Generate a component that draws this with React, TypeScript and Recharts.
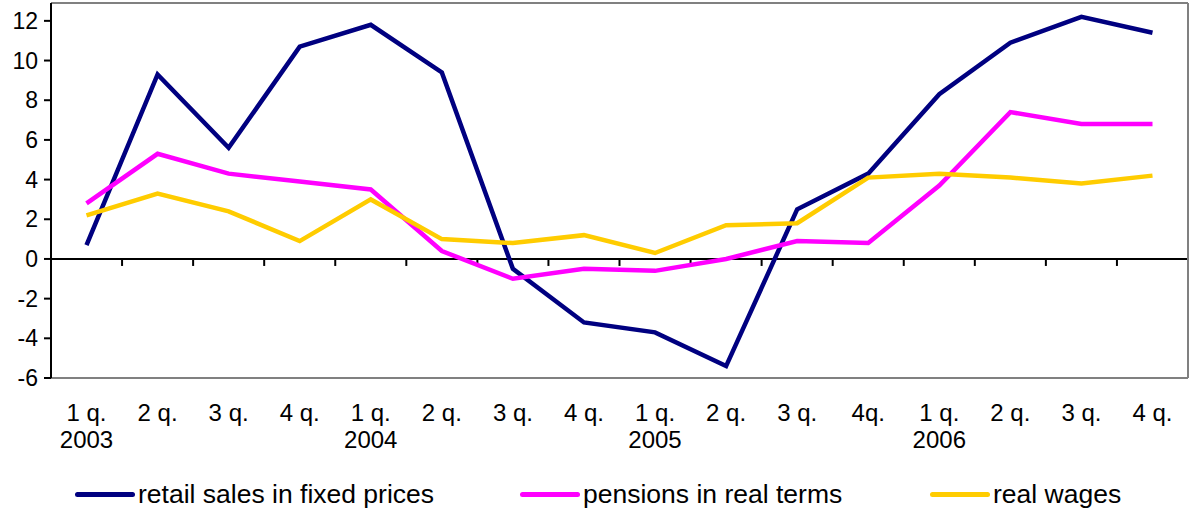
import React from 'react';
import { LineChart, Line, XAxis, YAxis, ReferenceLine, Legend } from 'recharts';

const quarters = ['1 q.', '2 q.', '3 q.', '4 q.', '1 q.', '2 q.', '3 q.', '4 q.', '1 q.', '2 q.', '3 q.', '4q.', '1 q.', '2 q.', '3 q.', '4 q.'];
const years = ['2003', '', '', '', '2004', '', '', '', '2005', '', '', '', '2006', '', '', ''];

const retailSales = [0.7, 9.3, 5.6, 10.7, 11.8, 9.4, -0.5, -3.2, -3.7, -5.4, 2.5, 4.3, 8.3, 10.9, 12.2, 11.4];
const pensions = [2.8, 5.3, 4.3, 3.9, 3.5, 0.4, -1.0, -0.5, -0.6, 0.0, 0.9, 0.8, 3.7, 7.4, 6.8, 6.8];
const realWages = [2.2, 3.3, 2.4, 0.9, 3.0, 1.0, 0.8, 1.2, 0.3, 1.7, 1.8, 4.1, 4.3, 4.1, 3.8, 4.2];

const yTicks = [-6, -4, -2, 0, 2, 4, 6, 8, 10, 12];
const yMax = 12.9;

const series = [
  { key: 'retail', name: 'retail sales in fixed prices', color: '#000080' },
  { key: 'pensions', name: 'pensions in real terms', color: '#FF00FF' },
  { key: 'wages', name: 'real wages', color: '#FFCC00' },
];

const data = quarters.map((q, i) => ({
  idx: i,
  retail: retailSales[i],
  pensions: pensions[i],
  wages: realWages[i],
}));

const FONT = '"Liberation Sans", Arial, sans-serif';

// x axis crossing at zero, with tick marks between the quarters
const ZeroAxis = (props: any) => {
  const left = Math.min(props.x1, props.x2);
  const right = Math.max(props.x1, props.x2);
  const y = props.y1;
  const step = (right - left) / quarters.length;
  return (
    <g>
      <line x1={left} x2={right} y1={y} y2={y} stroke="#000" strokeWidth={2} />
      {quarters.map((_, i) => (
        <line
          key={i}
          x1={left + step * (i + 1)}
          x2={left + step * (i + 1)}
          y1={y}
          y2={y + 7}
          stroke="#000"
          strokeWidth={2}
        />
      ))}
    </g>
  );
};

const QuarterTick = (props: any) => {
  const { x, y, payload } = props;
  const i = payload.index;
  return (
    <g>
      <text x={x} y={y + 35} textAnchor="middle" fill="#000" fontSize={24} fontFamily={FONT}>
        {quarters[i]}
      </text>
      {years[i] && (
        <text x={x} y={y + 62} textAnchor="middle" fill="#000" fontSize={24} fontFamily={FONT}>
          {years[i]}
        </text>
      )}
    </g>
  );
};

const legendLeft = [75, 520, 930];

const ChartLegend = () => (
  <div style={{ position: 'relative', width: 1190, height: 30, fontFamily: FONT, fontSize: 26.5, color: '#000' }}>
    {series.map((s, i) => (
      <div
        key={s.key}
        style={{ position: 'absolute', left: legendLeft[i], top: 0, height: 30, display: 'flex', alignItems: 'center', whiteSpace: 'nowrap' }}
      >
        <span style={{ display: 'inline-block', width: 60, height: 5, borderRadius: 3, background: s.color, marginRight: 3 }} />
        <span>{s.name}</span>
      </div>
    ))}
  </div>
);

export default function App() {
  return (
    <div style={{ position: 'absolute', left: 0, top: 0, width: 1190, height: 508, background: '#fff' }}>
      <LineChart
        width={1190}
        height={508}
        data={data}
        margin={{ top: 3, right: 1, bottom: 50, left: 0 }}
        style={{ fontFamily: FONT }}
      >
        <XAxis
          dataKey="idx"
          type="category"
          padding={{ left: 35.5, right: 35.5 }}
          axisLine={{ stroke: '#808080', strokeWidth: 2 }}
          tickLine={false}
          tick={<QuarterTick />}
          interval={0}
          height={80}
        />
        <YAxis
          domain={[-6, yMax]}
          ticks={yTicks}
          width={51}
          axisLine={{ stroke: '#000', strokeWidth: 2 }}
          tickLine={{ stroke: '#000', strokeWidth: 2 }}
          tickSize={7}
          tickMargin={6}
          tick={{ fill: '#000', fontSize: 23 }}
          allowDataOverflow
        />
        <YAxis
          yAxisId="frame"
          orientation="right"
          domain={[-6, yMax]}
          width={1}
          tick={false}
          tickLine={false}
          axisLine={{ stroke: '#808080', strokeWidth: 2 }}
        />
        <ReferenceLine y={yMax} stroke="#808080" strokeWidth={2} ifOverflow="extendDomain" />
        <ReferenceLine y={0} shape={<ZeroAxis />} />
        <Legend
          layout="horizontal"
          align="center"
          verticalAlign="middle"
          wrapperStyle={{ top: 479, left: 0, width: 1190 }}
          content={<ChartLegend />}
        />
        {series.map(s => (
          <Line
            key={s.key}
            type="linear"
            dataKey={s.key}
            name={s.name}
            stroke={s.color}
            strokeWidth={4.5}
            dot={false}
            activeDot={false}
            isAnimationActive={false}
          />
        ))}
      </LineChart>
    </div>
  );
}
